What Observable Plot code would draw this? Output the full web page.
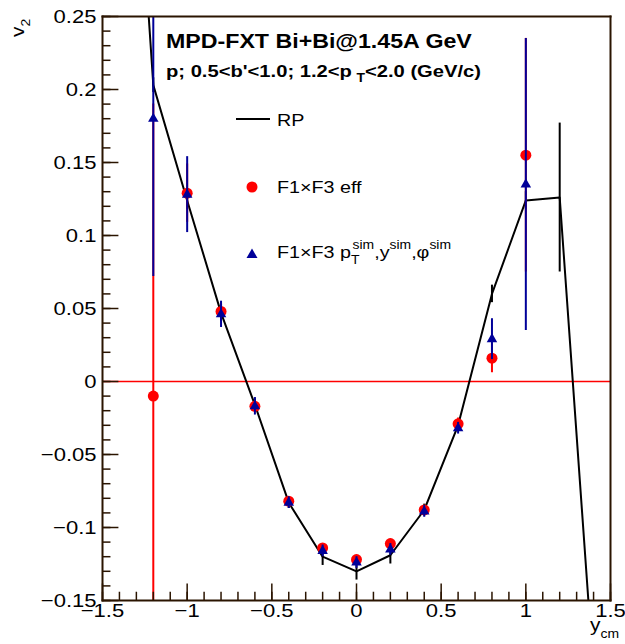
<!DOCTYPE html>
<html><head><meta charset="utf-8">
<script src="https://cdn.jsdelivr.net/npm/d3@7"></script>
<script src="https://cdn.jsdelivr.net/npm/@observablehq/plot@0.6"></script>
<style>
body{margin:0;background:#fff;font-family:"Liberation Sans",Arial,Helvetica,sans-serif;overflow:hidden;}
#wrap{position:relative;width:625px;height:644px;}
#ov{position:absolute;left:0;top:0;pointer-events:none;}
</style></head><body><div id="wrap"></div>
<script>
// ---- data ----
const rpY = [-1.4, -1.2, -1.0, -0.8, -0.6, -0.4, -0.2, 0.0, 0.2, 0.4, 0.6, 0.8, 1.0, 1.2, 1.4];
const rpV2 = [0.55, 0.203, 0.124, 0.047, -0.016, -0.083, -0.120, -0.130, -0.119, -0.088, -0.030, 0.060, 0.124, 0.126, -0.20];
const rpErr = [0.005, 0.005, 0.006, 0.006, 0.004, 0.004, 0.006, 0.006, 0.006, 0.004, 0.004, 0.006, 0.006, 0.051, 0.005];

const effY = [-1.2, -1.0, -0.8, -0.6, -0.4, -0.2, 0.0, 0.2, 0.4, 0.6, 0.8, 1.0];
const effV2 = [-0.010, 0.129, 0.048, -0.017, -0.082, -0.114, -0.122, -0.111, -0.088, -0.029, 0.016, 0.155];
const effErr = [0.20, 0.020, 0.006, 0.004, 0.003, 0.003, 0.003, 0.003, 0.003, 0.004, 0.010, 0.080];

const simY = [-1.2, -1.0, -0.8, -0.6, -0.4, -0.2, 0.0, 0.2, 0.4, 0.6, 0.8, 1.0];
const simV2 = [0.180, 0.128, 0.046, -0.017, -0.083, -0.116, -0.124, -0.115, -0.089, -0.032, 0.029, 0.135];
const simErr = [0.108, 0.026, 0.009, 0.006, 0.004, 0.004, 0.004, 0.004, 0.004, 0.004, 0.014, 0.100];

const xTicks = [-1.5, -1.0, -0.5, 0, 0.5, 1.0, 1.5];
const xTickLabels = ["\u22121.5", "\u22121", "\u22120.5", "0", "0.5", "1", "1.5"];
const yTicks = [-0.15, -0.10, -0.05, 0, 0.05, 0.10, 0.15, 0.20, 0.25];
const yTickLabels = ["\u22120.15", "\u22120.1", "\u22120.05", "0", "0.05", "0.1", "0.15", "0.2", "0.25"];
const xMinor = d3.range(-15, 16).map(i => i / 10);
const yMinor = d3.range(-15, 26).map(i => i / 100);

const rp = rpY.map((x, i) => ({x, v: rpV2[i], e: rpErr[i]}));
const eff = effY.map((x, i) => ({x, v: effV2[i], e: effErr[i]}));
const sim = simY.map((x, i) => ({x, v: simV2[i], e: simErr[i]}));

const X0 = -1.5, X1 = 1.5, Y0 = -0.15, Y1 = 0.25;
const blue = "#000099", red = "#ff0000", ink = "#000000", frameInk = "#2a1400";
const FONT = "'Liberation Sans', Arial, Helvetica, sans-serif";

const yTickSeg = [
  ...yTicks.map(v => ({x1: X0, x2: X0 + 0.094, y1: v, y2: v})),
  ...yMinor.map(v => ({x1: X0, x2: X0 + 0.047, y1: v, y2: v}))
];
const xTickSeg = [
  ...xTicks.map(v => ({x1: v, x2: v, y1: Y0, y2: Y0 + 0.0117})),
  ...xMinor.map(v => ({x1: v, x2: v, y1: Y0, y2: Y0 + 0.006}))
];
const frameSeg = [
  {x1: X0, x2: X1, y1: Y0, y2: Y0}, {x1: X1, x2: X1, y1: Y0, y2: Y1},
  {x1: X1, x2: X0, y1: Y1, y2: Y1}, {x1: X0, x2: X0, y1: Y1, y2: Y0}
];
const zeroT = [{v: 0, a: X0, b: X1}];

const plot = Plot.plot({
  width: 625, height: 644,
  marginLeft: 102, marginRight: 15, marginTop: 16, marginBottom: 44,
  x: {domain: [X0, X1], label: null},
  y: {domain: [Y0, Y1], label: null},
  style: {fontFamily: FONT, background: "white", color: "black"},
  marks: [
    Plot.ruleY(zeroT, {y: "v", x1: "a", x2: "b", stroke: red, strokeWidth: 1.3}),
    Plot.line(rp, {x: "x", y: "v", stroke: ink, strokeWidth: 2, clip: true}),
    Plot.ruleX(rp, {x: "x", y1: d => d.v - d.e, y2: d => d.v + d.e, stroke: ink, strokeWidth: 2, clip: true}),
    Plot.ruleX(eff, {x: "x", y1: d => d.v - d.e, y2: d => d.v + d.e, stroke: red, strokeWidth: 2, clip: true}),
    Plot.dot(eff, {x: "x", y: "v", r: 5.5, fill: red, stroke: "none", clip: true}),
    Plot.ruleX(sim, {x: "x", y1: d => d.v - d.e, y2: d => d.v + d.e, stroke: blue, strokeWidth: 2, clip: true}),
    Plot.dot(sim, {x: "x", y: "v", r: 3.9, symbol: "triangle", fill: blue, stroke: "none", clip: true}),
    Plot.link(yTickSeg, {x1: "x1", y1: "y1", x2: "x2", y2: "y2", stroke: frameInk, strokeWidth: 1.5}),
    Plot.link(xTickSeg, {x1: "x1", y1: "y1", x2: "x2", y2: "y2", stroke: frameInk, strokeWidth: 1.5}),
    Plot.link(frameSeg, {x1: "x1", y1: "y1", x2: "x2", y2: "y2", stroke: frameInk, strokeWidth: 2, strokeLinecap: "square"}),
    Plot.axisY(yTicks, {tickSize: 0, tickPadding: 6, fontSize: 19, tickFormat: d => yTickLabels[yTicks.indexOf(d)]}),
    Plot.axisX(xTicks, {tickSize: 0, tickPadding: 3, fontSize: 19, tickFormat: d => xTickLabels[xTicks.indexOf(d)]})
  ]
});
const wrap = document.getElementById("wrap");
wrap.appendChild(plot);

plot.querySelectorAll('g[aria-label="y-axis tick label"] text, g[aria-label="x-axis tick label"] text').forEach(t => {
  const tr = t.getAttribute("transform") || "";
  t.setAttribute("transform", tr + " scale(1.16,1)");
});

const NS = "http://www.w3.org/2000/svg";
const ov = document.createElementNS(NS, "svg");
ov.setAttribute("id", "ov");
ov.setAttribute("width", 625); ov.setAttribute("height", 644);
ov.setAttribute("font-family", FONT);
ov.innerHTML = `
<text transform="translate(166,48) scale(1.16,1)" font-size="20" font-weight="bold">MPD-FXT Bi+Bi@1.45A GeV</text>
<text transform="translate(166,77) scale(1.16,1)" font-size="17.4" font-weight="bold">p; 0.5&lt;b'&lt;1.0; 1.2&lt;p<tspan font-size="12" dx="4" dy="5">T</tspan><tspan dy="-5">&lt;2.0 (GeV/c)</tspan></text>
<line x1="236" x2="270" y1="119" y2="119" stroke="black" stroke-width="2"/>
<text transform="translate(277,126) scale(1.16,1)" font-size="17">RP</text>
<circle cx="252" cy="187" r="5.5" fill="${red}"/>
<text transform="translate(277,193) scale(1.16,1)" font-size="17">F1×F3 eff</text>
<path d="M252,248.5 L257.5,258 L246.5,258 Z" fill="${blue}"/>
<text transform="translate(277,258) scale(1.16,1)" font-size="17">F1×F3 p<tspan font-size="12" dy="6">T</tspan><tspan font-size="12" dx="-6" dy="-15">sim</tspan><tspan dy="9">,y</tspan><tspan font-size="12" dy="-9">sim</tspan><tspan dy="9">,φ</tspan><tspan font-size="12" dy="-9">sim</tspan></text>
<text transform="translate(590,631) scale(1.16,1)" font-size="18">y<tspan font-size="12" dy="7">cm</tspan></text>
<text transform="translate(24,37) rotate(-90) scale(1.16,1)" font-size="18">v<tspan font-size="12" dy="6">2</tspan></text>
`;
wrap.appendChild(ov);
</script>
</body></html>
